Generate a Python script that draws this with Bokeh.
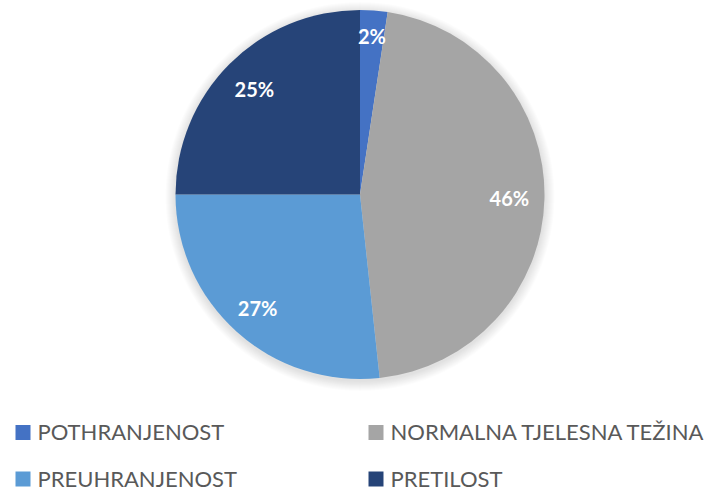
import math
from bokeh.plotting import figure
from bokeh.models import Range1d, ColumnDataSource
from bokeh.core.properties import value
from bokeh.embed import file_html
from bokeh.resources import INLINE

# ---- data ----
categories = ["POTHRANJENOST", "NORMALNA TJELESNA TEŽINA", "PREUHRANJENOST", "PRETILOST"]
shares = [2.4, 45.9, 26.7, 25.0]
labels = [f"{round(v)}%" for v in shares]
colors = ["#4472C4", "#A5A5A5", "#5B9BD5", "#264478"]

# ---- layout (pixel coords, y measured from top) ----
W, H = 718, 491
def Y(py):
    return H - py

cx, cy, R = 359.5, 194.0, 184.5

p = figure(width=W, height=H, output_backend="svg", toolbar_location=None,
           x_range=Range1d(0, W), y_range=Range1d(0, H),
           min_border=0)
p.axis.visible = False
p.grid.visible = False
p.outline_line_color = None
p.background_fill_color = "white"

# soft shadow
for k in range(1, 11):
    p.circle(x=[cx], y=[Y(cy + 2)], radius=R + k, fill_color="black",
             fill_alpha=0.012, line_color=None)

total = sum(shares)
label_r = [0.86, 0.81, 0.83, 0.81]
starts, ends, lx, ly = [], [], [], []
cum = 0.0
for v, f in zip(shares, label_r):
    a0 = math.pi / 2 - 2 * math.pi * cum / total
    cum += v
    a1 = math.pi / 2 - 2 * math.pi * cum / total
    starts.append(a0)
    ends.append(a1)
    mid = (a0 + a1) / 2
    lx.append(cx + f * R * math.cos(mid))
    ly.append(Y(cy) + f * R * math.sin(mid))

src = ColumnDataSource(dict(start=starts, end=ends, color=colors,
                            lx=lx, ly=ly, label=labels))
p.wedge(x=cx, y=Y(cy), radius=R, start_angle="start", end_angle="end",
        direction="clock", fill_color="color", line_color=None, source=src)

p.text(x="lx", y="ly", text="label", source=src, text_color="white",
       text_font=value("Lato"), text_font_style="bold", text_font_size="20px",
       text_align="center", text_baseline="middle")

# legend
col_x = [15, 368]
row_y = [432, 478.5]
mx, my, tx, ty = [], [], [], []
for i, c in enumerate(categories):
    col, row = i % 2, i // 2
    mx.append(col_x[col] + 7.5)
    my.append(Y(row_y[row]))
    tx.append(col_x[col] + 22)
    ty.append(Y(row_y[row] - 1))

leg = ColumnDataSource(dict(mx=mx, my=my, tx=tx, ty=ty, cat=categories, color=colors))
p.rect(x="mx", y="my", width=15, height=15, fill_color="color", line_color=None, source=leg)
p.text(x="tx", y="ty", text="cat", source=leg, text_color="#595959",
       text_font=value("Lato"), text_font_size="22px",
       text_align="left", text_baseline="middle")

open("out.html", "w").write(file_html(p, INLINE))
